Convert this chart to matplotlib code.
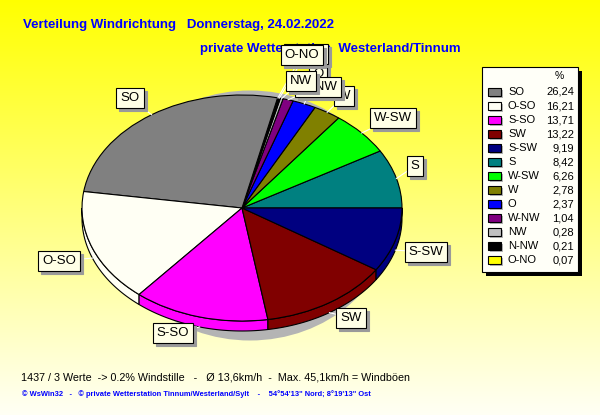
import numpy as np
import matplotlib.pyplot as plt
from matplotlib.patches import Rectangle, Ellipse, Polygon

plt.rcParams['font.family'] = ['Liberation Sans', 'DejaVu Sans']

# wind directions in pie order (counterclockwise from east) and share in %
directions = ['S', 'W-SW', 'W', 'O', 'W-NW', 'NW', 'N-NW', 'O-NO',
              'SO', 'O-SO', 'S-SO', 'SW', 'S-SW']
shares = [8.42, 6.26, 2.78, 2.37, 1.04, 0.28, 0.21, 0.07,
          26.24, 16.21, 13.71, 13.22, 9.19]
colors = ['#008080', '#00ff00', '#808000', '#0000ff', '#800080', '#c0c0c0',
          '#000000', '#ffff00', '#808080', '#fffff4', '#ff00ff', '#800000',
          '#000080']

title1 = 'Verteilung Windrichtung   Donnerstag, 24.02.2022'
title2 = 'private Wetterstation  Westerland/Tinnum'
info = ('1437 / 3 Werte  -> 0.2% Windstille   -   \u00d8 13,6km/h  -  '
        'Max. 45,1km/h = Windb\u00f6en')
copy = ('\u00a9 WsWin32   -   \u00a9 private Wetterstation Tinnum/Westerland/Sylt'
        '    -    54\u00b054\'13" Nord; 8\u00b019\'13" Ost')

# label box centres (pixels) for each direction
label_pos = {'S': (415, 166), 'W-SW': (393, 118), 'W': (344, 96),
             'O': (318, 74), 'W-NW': (318, 87), 'NW': (301, 81),
             'N-NW': (306, 54), 'O-NO': (302, 55), 'SO': (130, 98),
             'O-SO': (59, 261), 'S-SO': (173, 333), 'SW': (351, 318),
             'S-SW': (426, 252)}

W, H = 600, 415
CX, CY, RX, RY, DEPTH = 242, 208, 160, 113, 10

fig = plt.figure(figsize=(6, 4.15), dpi=100)

# background gradient
bg = fig.add_axes([0, 0, 1, 1], zorder=0)
grad = np.linspace(0, 1, 256).reshape(-1, 1)
img = np.ones((256, 1, 3))
img[..., 2] = grad * 0.96
bg.imshow(img, aspect='auto', extent=[0, 1, 0, 1], origin='upper')
bg.axis('off')

# pie axes
lim = 1.6
ax = fig.add_axes([(CX - lim * RX) / W, (H - CY - lim * RY) / H,
                   2 * lim * RX / W, 2 * lim * RY / H], zorder=1)
ax.patch.set_visible(False)
d = DEPTH / RY

shadow = Ellipse((8 / RX, -7.5 / RY), 2 * 142 / RX, 2 * 125 / RY,
                 facecolor='#b4b4b4', edgecolor='none', zorder=0)
ax.add_patch(shadow)

wedges, _ = ax.pie(shares, colors=colors, startangle=0, counterclock=True,
                   wedgeprops=dict(edgecolor='black', linewidth=0.8))
for w in wedges:
    w.set_zorder(3)

# side walls of the 3d pie
bounds = np.concatenate([[0], np.cumsum(shares)]) / 100 * 360
for i, c in enumerate(colors):
    a0, a1 = max(bounds[i], 180), min(bounds[i + 1], 360)
    if a1 <= a0:
        continue
    t = np.radians(np.linspace(a0, a1, 60))
    xs = np.concatenate([np.cos(t), np.cos(t[::-1])])
    ys = np.concatenate([np.sin(t), np.sin(t[::-1]) - d])
    ax.add_patch(Polygon(np.column_stack([xs, ys]), closed=True,
                         facecolor=c, edgecolor='black', linewidth=0.8,
                         zorder=2))
ax.set_aspect('auto')
ax.set_xlim(-lim, lim)
ax.set_ylim(-lim, lim)
ax.axis('off')

# overlay in pixel coordinates
ov = fig.add_axes([0, 0, 1, 1], zorder=2)
ov.set_xlim(0, W)
ov.set_ylim(H, 0)
ov.axis('off')
ov.patch.set_visible(False)

ov.text(23, 25, title1, color='#0000ff', fontsize=9.5, fontweight='bold',
        va='center', ha='left')
ov.text(200, 49, title2, color='#0000ff', fontsize=9.5, fontweight='bold',
        va='center', ha='left')
ov.text(21, 377, info, color='black', fontsize=7.75, va='center', ha='left')
ov.text(22, 394, copy, color='#0000ff', fontsize=5.45, fontweight='bold',
        va='center', ha='left')

# labels with leader lines
mids = (bounds[:-1] + bounds[1:]) / 2
box = dict(boxstyle='square,pad=0.3', facecolor='#ffffe6',
           edgecolor='black', linewidth=0.8)
sbox = dict(boxstyle='square,pad=0.3', facecolor='#9a9a9a',
            edgecolor='#9a9a9a', linewidth=0.8)
for k, name in enumerate(directions):
    t = np.radians(mids[k])
    ex = CX + RX * np.cos(t)
    ey = CY - RY * np.sin(t) + (DEPTH if np.sin(t) < 0 else 0)
    lx, ly = label_pos[name]
    z = 10 + 2 * k
    ov.plot([ex, lx], [ey, ly], color='white', linewidth=0.8, zorder=5)
    ov.text(lx + 3, ly + 3, name, fontsize=9.5, color='#9a9a9a', ha='center',
            va='center', bbox=sbox, zorder=z)
    ov.text(lx, ly, name, fontsize=9.5, color='black', ha='center',
            va='center', bbox=box, zorder=z + 1)

# legend sorted by share
order = np.argsort(shares)[::-1]
ov.add_patch(Rectangle((486, 71), 96, 205, facecolor='black', zorder=50))
ov.add_patch(Rectangle((482, 67), 96, 205, facecolor='#fffff8',
                       edgecolor='black', linewidth=0.8, zorder=51))
ov.text(559, 76, '%', fontsize=7.5, ha='center', va='center', zorder=52)
for r, k in enumerate(order):
    y = 92 + 14 * r
    ov.add_patch(Rectangle((490, y - 2), 13, 8, facecolor='#b4b4b4',
                           edgecolor='none', zorder=52))
    ov.add_patch(Rectangle((488, y - 4), 13, 8, facecolor=colors[k],
                           edgecolor='black', linewidth=0.8, zorder=53))
    ov.text(508, y, directions[k], fontsize=8, ha='left', va='center',
            zorder=54)
    ov.text(574, y, f'{shares[k]:.2f}'.replace('.', ','), fontsize=8,
            ha='right', va='center', zorder=54)

fig.savefig('out.png', dpi=100)
